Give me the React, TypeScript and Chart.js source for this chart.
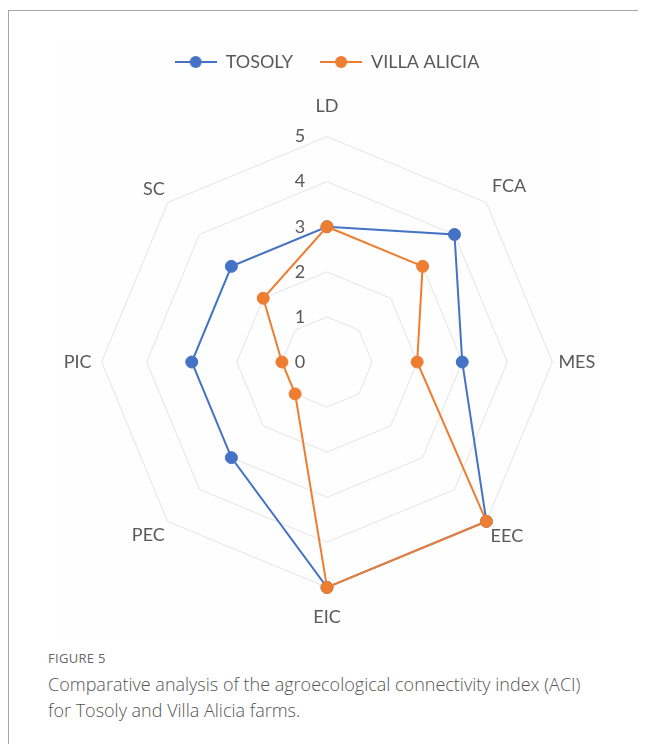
import React, { useEffect, useRef } from "react";
import { Chart, registerables } from "chart.js";

Chart.register(...registerables);

const CATEGORIES = ["LD", "FCA", "MES", "EEC", "EIC", "PEC", "PIC", "SC"];
const SERIES_NAMES = ["TOSOLY", "VILLA ALICIA"];
const TOSOLY = [3, 4, 3, 5, 5, 3, 3, 3];
const VILLA_ALICIA = [3, 3, 2, 5, 5, 1, 1, 2];
const TICK_VALUES = [0, 1, 2, 3, 4, 5];
const TICK_LABELS = ["0", "1", "2", "3", "4", "5"];

const COLORS = ["#4472C4", "#ED7D31"];
const LABEL_PADDING = [20, 8, 6, 6, 19, 4, 10, 4];
const TEXT_COLOR = "#595959";
const FONT = "Lato";

function legendSymbol(color: string) {
  const c = document.createElement("canvas");
  c.width = 42;
  c.height = 14;
  const ctx = c.getContext("2d")!;
  ctx.strokeStyle = color;
  ctx.lineWidth = 2;
  ctx.beginPath();
  ctx.moveTo(0, 7);
  ctx.lineTo(42, 7);
  ctx.stroke();
  ctx.fillStyle = color;
  ctx.beginPath();
  ctx.arc(21, 7, 6, 0, Math.PI * 2);
  ctx.fill();
  return c;
}

const tickPlugin = {
  id: "leftTicks",
  beforeDatasetsDraw(chart: any) {
    const s = chart.scales.r;
    const ctx = chart.ctx;
    ctx.save();
    ctx.font = `18px ${FONT}`;
    ctx.fillStyle = TEXT_COLOR;
    ctx.textAlign = "center";
    ctx.textBaseline = "middle";
    TICK_VALUES.forEach((v, i) => {
      const d = s.getDistanceFromCenterForValue(v);
      ctx.fillText(TICK_LABELS[i], s.xCenter - 27, s.yCenter - d);
    });
    ctx.restore();
  },
};

export default function App() {
  const ref = useRef<HTMLCanvasElement>(null);

  useEffect(() => {
    const symbols = COLORS.map(legendSymbol);
    const chart = new Chart(ref.current!, {
      type: "radar",
      data: {
        labels: CATEGORIES,
        datasets: [
          {
            label: SERIES_NAMES[0],
            data: TOSOLY,
            borderColor: COLORS[0],
            backgroundColor: COLORS[0],
            pointBackgroundColor: COLORS[0],
            pointBorderColor: COLORS[0],
            borderWidth: 2,
            pointRadius: 6,
            pointBorderWidth: 1,
            fill: false,
            order: 1,
          },
          {
            label: SERIES_NAMES[1],
            data: VILLA_ALICIA,
            borderColor: COLORS[1],
            backgroundColor: COLORS[1],
            pointBackgroundColor: COLORS[1],
            pointBorderColor: COLORS[1],
            borderWidth: 2,
            pointRadius: 6,
            pointBorderWidth: 1,
            fill: false,
            order: 0,
          },
        ],
      },
      options: {
        responsive: false,
        animation: false,
        layout: { padding: { top: 16, bottom: 0, left: 0, right: 0 } },
        plugins: {
          legend: {
            position: "top",
            labels: {
              usePointStyle: true,
              pointStyleWidth: 42,
              padding: 27,
              color: TEXT_COLOR,
              font: { family: FONT, size: 18 },
              sort: (a: any, b: any) => a.datasetIndex - b.datasetIndex,
              generateLabels: (c: any) => {
                const items = (Chart.defaults.plugins.legend.labels as any).generateLabels(c);
                return items.map((it: any) => ({ ...it, pointStyle: symbols[it.datasetIndex] }));
              },
            },
          },
          title: {
            display: true,
            text: " ",
            position: "top",
            weight: 500,
            padding: 0,
            font: { size: 14, lineHeight: 1 },
          } as any,
          tooltip: { enabled: false },
        },
        scales: {
          r: {
            min: 0,
            max: 5,
            ticks: { stepSize: 1, display: false },
            grid: { color: "#e4e4e4", lineWidth: 1 },
            angleLines: { display: false },
            pointLabels: {
              color: TEXT_COLOR,
              font: { family: FONT, size: 18 },
              padding: ((ctx: any) => LABEL_PADDING[ctx.index]) as any,
            },
          },
        },
      },
      plugins: [tickPlugin],
    });
    return () => chart.destroy();
  }, []);

  return (
    <div style={{ position: "relative", width: 638, height: 736, fontFamily: FONT }}>
      <div
        style={{
          position: "absolute",
          top: 2,
          left: 0,
          width: 640,
          height: 734,
          borderTop: "1px solid #a6a6a6",
          borderLeft: "1px solid #a6a6a6",
        }}
      />
      <div
        style={{
          position: "absolute",
          top: 37,
          left: 50,
          width: 542,
          height: 590,
          background: "#fefefe",
        }}
      />
      <canvas
        ref={ref}
        width={638}
        height={619}
        style={{ position: "absolute", top: 2, left: 0, width: 638, height: 619 }}
      />
      <div
        style={{
          position: "absolute",
          top: 641,
          left: 40,
          fontSize: 13,
          color: "#666",
          letterSpacing: 0.3,
          fontFamily: "'Open Sans'",
        }}
      >
        FIGURE 5
      </div>
      <div
        style={{
          position: "absolute",
          top: 663,
          left: 40,
          width: 600,
          fontSize: 18,
          lineHeight: "26px",
          color: "#555",
          fontWeight: 300,
          fontFamily: "'Open Sans'",
          whiteSpace: "nowrap",
        }}
      >
        Comparative analysis of the agroecological connectivity index (ACI)
        <br />
        for Tosoly and Villa Alicia farms.
      </div>
    </div>
  );
}
